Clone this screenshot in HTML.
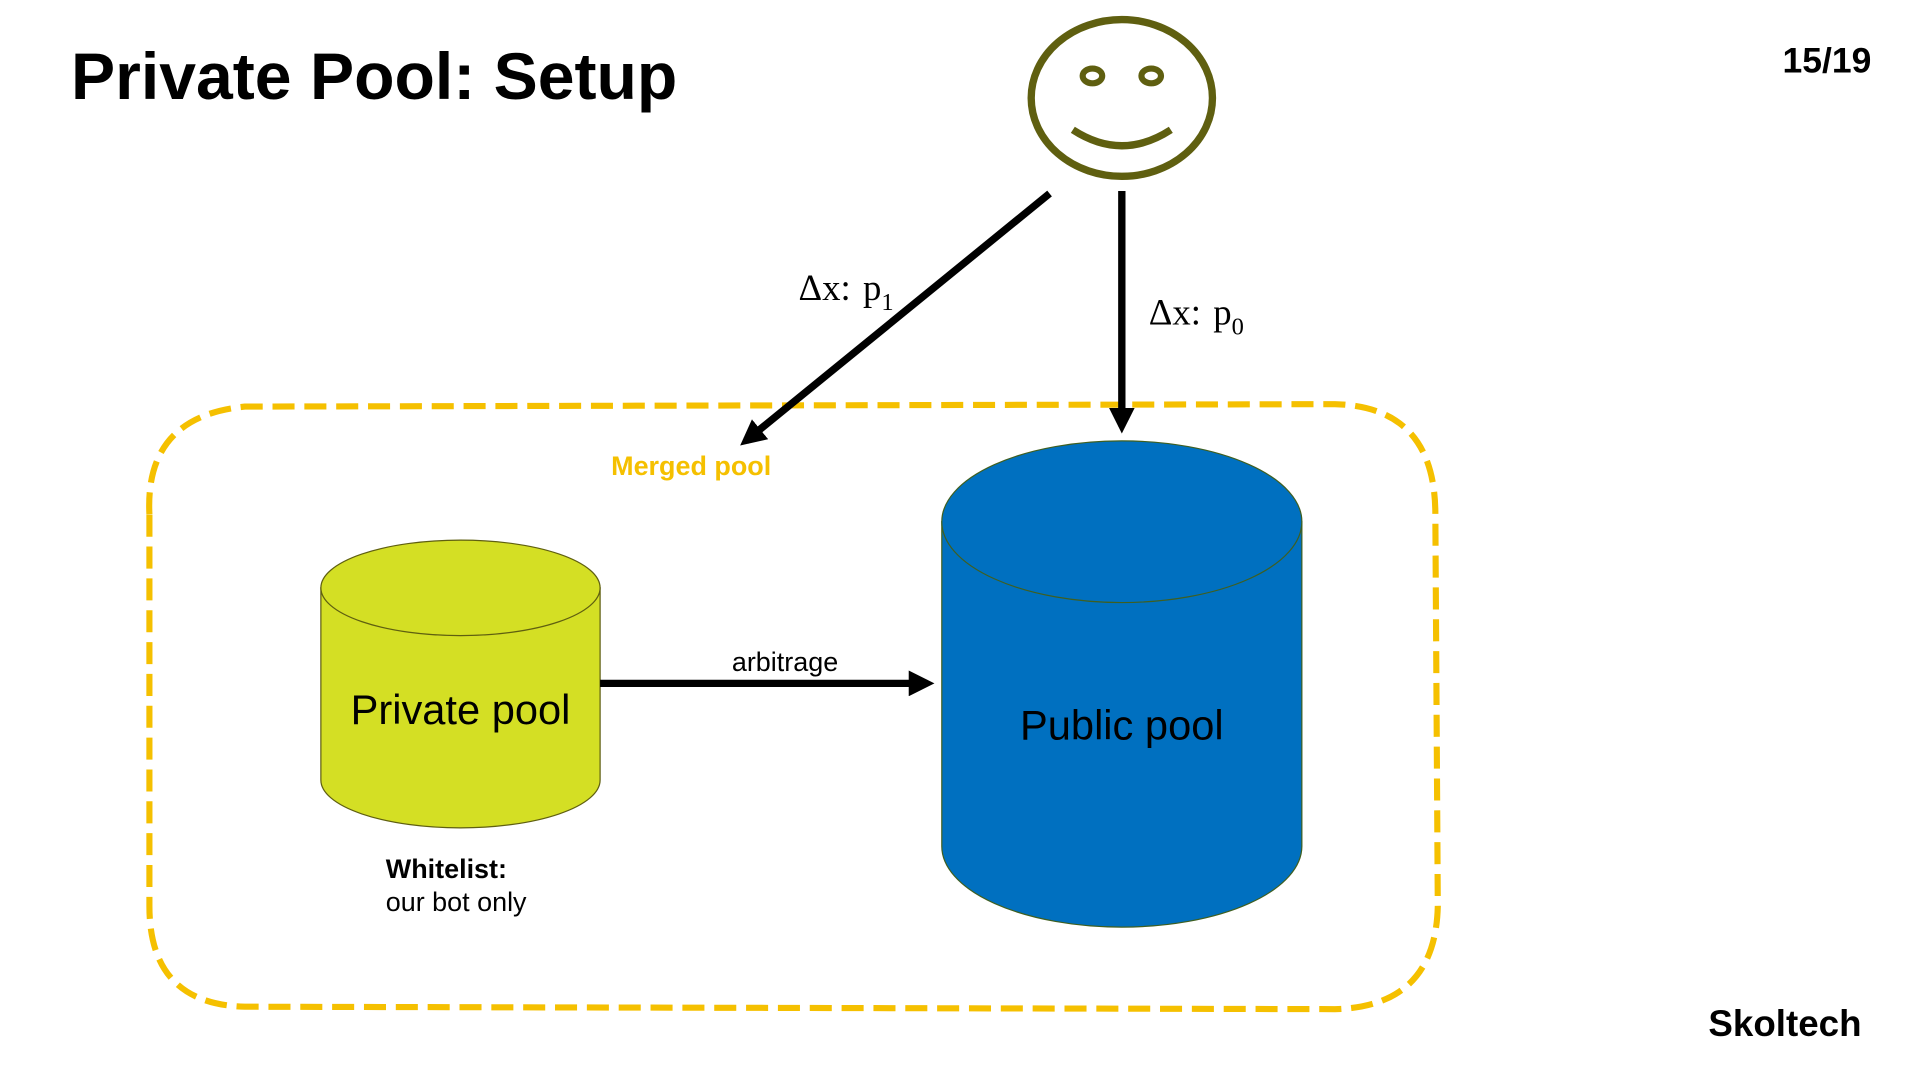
<!DOCTYPE html>
<html><head><meta charset="utf-8"><style>
html,body{margin:0;padding:0;background:#fff;width:1920px;height:1080px;overflow:hidden}
#w{width:1568px;height:882px;transform:scale(1.2247);transform-origin:0 0;position:relative}
</style></head><body><div id="w">
<svg width="1568" height="882" viewBox="0 0 1568 882" xmlns="http://www.w3.org/2000/svg" font-family="Liberation Sans, sans-serif">
<defs><marker id="a" markerWidth="3.5" markerHeight="3.5" refX="2.5" refY="1.75" orient="auto" markerUnits="strokeWidth"><path d="M0,0 L3.5,1.75 L0,3.5 z" fill="#000"/></marker></defs>
<text x="58" y="81" font-size="54" font-weight="bold">Private Pool: Setup</text>
<text x="1528" y="59" font-size="29" font-weight="bold" text-anchor="end">15/19</text>
<text x="1520" y="846" font-size="30" font-weight="bold" text-anchor="end">Skoltech</text>
<g fill="none" stroke="#5f5f10" stroke-width="6">
<ellipse cx="916" cy="80" rx="74" ry="64"/>
<ellipse cx="892" cy="62" rx="8" ry="6" stroke-width="5"/>
<ellipse cx="940" cy="62" rx="8" ry="6" stroke-width="5"/>
<path d="M876,106 Q916,132 956,106"/>
</g>
<path d="M122,420 Q118,340 200,332 L1090,330 Q1172,332 1172,420 L1174,740 Q1172,822 1090,824 L200,822 Q122,820 122,740 Z" fill="none" stroke="#f5c000" stroke-width="5" stroke-dasharray="18 8"/>
<line x1="857" y1="158" x2="609" y2="360" stroke="#000" stroke-width="6" marker-end="url(#a)"/>
<line x1="916" y1="156" x2="916" y2="348" stroke="#000" stroke-width="6" marker-end="url(#a)"/>
<text x="652" y="245" font-size="30" font-family="Liberation Serif, serif">Δx:<tspan dx="10">p</tspan><tspan font-size="20" dy="8">1</tspan></text>
<text x="938" y="265" font-size="30" font-family="Liberation Serif, serif">Δx:<tspan dx="10">p</tspan><tspan font-size="20" dy="8">0</tspan></text>
<text x="499" y="388" font-size="22" font-weight="bold" fill="#f5c000">Merged pool</text>
<path d="M262,480 L262,637 A114,39 0 0 0 490,637 L490,480 Z" fill="#d4df24" stroke="#5f5f10" stroke-width="1"/>
<ellipse cx="376" cy="480" rx="114" ry="39" fill="#d4df24" stroke="#5f5f10" stroke-width="1"/>
<text x="376" y="591" font-size="34" text-anchor="middle">Private pool</text>
<path d="M769,426 L769,691 A147,66 0 0 0 1063,691 L1063,426 Z" fill="#0070c0" stroke="#3f5f20" stroke-width="1"/>
<ellipse cx="916" cy="426" rx="147" ry="66" fill="#0070c0" stroke="#3f5f20" stroke-width="1"/>
<text x="916" y="604" font-size="34" text-anchor="middle">Public pool</text>
<line x1="490" y1="558" x2="757" y2="558" stroke="#000" stroke-width="6" marker-end="url(#a)"/>
<text x="641" y="548" font-size="22" text-anchor="middle">arbitrage</text>
<text x="315" y="717" font-size="22" font-weight="bold">Whitelist:</text>
<text x="315" y="744" font-size="22">our bot only</text>
</svg></div></body></html>
